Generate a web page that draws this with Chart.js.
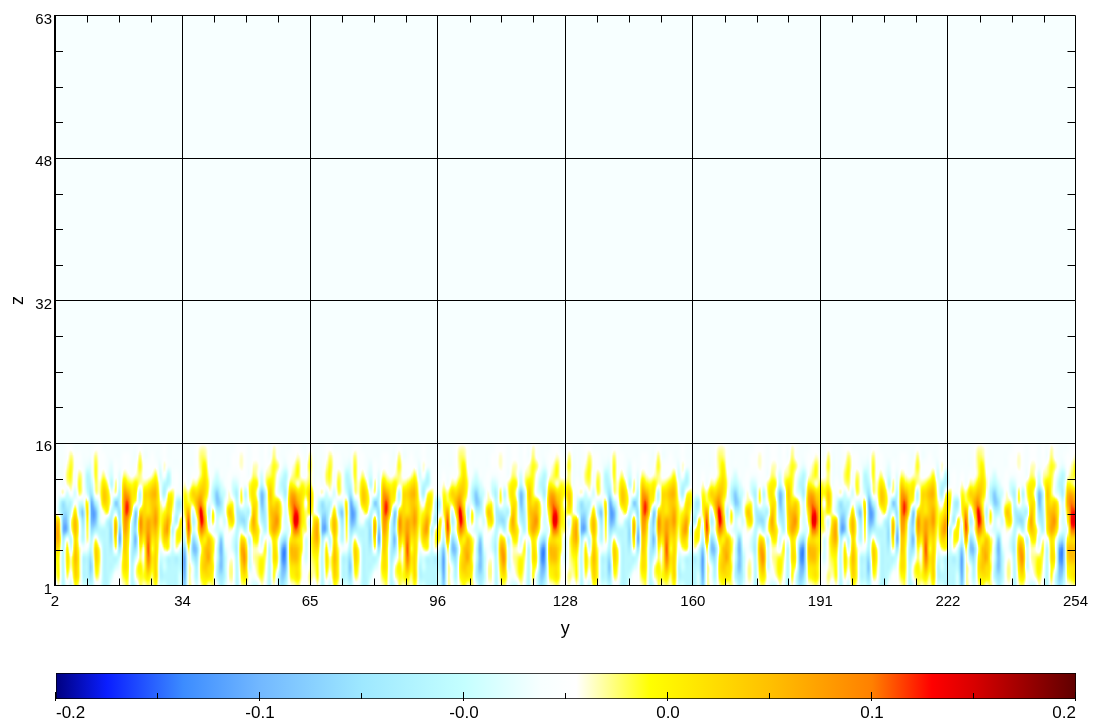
<!DOCTYPE html>
<html>
<head>
<meta charset="utf-8">
<title>y-z slice</title>
<script src="https://cdn.jsdelivr.net/npm/chart.js@4/dist/chart.umd.min.js"></script>
<style>
  html, body { margin: 0; padding: 0; background: #fff; }
  canvas { position: absolute; left: 0; display: block; }
  #heat { top: 0; }
  #bar { top: 640px; }
</style>
</head>
<body>
<canvas id="heat" width="1095" height="640"></canvas>
<canvas id="bar" width="1095" height="82"></canvas>
<script>
const xTickLabels = ['2', '34', '65', '96', '128', '160', '191', '222', '254'];
const zTickLabels = ['1', '16', '32', '48', '63'];
const barTickLabels = ['-0.2', '-0.1', '-0.0', '0.0', '0.1', '0.2'];

const stopValues = [-0.2, -0.18, -0.15, -0.12, -0.08, -0.04, -0.01, 0.004, 0.033, 0.08, 0.12, 0.1435, 0.16, 0.2];
const stopColors = ['#000080', '#0a1eff', '#3c8cff', '#72b8ff', '#9ee8ff', '#c4ffff', '#f7ffff', '#ffffff',
  '#ffff00', '#ffc000', '#ff8000', '#ff0000', '#d80000', '#600000'];

// value of the empty part of the slice, z above 16
const backgroundValue = -0.01;

// One line per y, z = 1 to 16, in hundredths.
const heatColumns = [
  [-1,1,2,3,5,7,7,5,1,1,1,-1,-1,-1,-1,-1],
  [1,3,3,3,5,8,8,6,-3,-3,-1,0,-1,-1,-1,-1],
  [-5,-5,-5,-5,-5,-6,-11,-10,-8,-8,1,-1,-1,-1,-1,-1],
  [-1,2,4,5,4,0,-11,-10,-8,-5,-3,1,2,1,0,0],
  [-3,-1,1,1,-3,-5,0,1,-3,-5,0,2,3,3,2,0],
  [3,6,7,8,7,6,8,8,5,0,-3,-1,-1,0,0,-1],
  [1,3,3,3,2,0,1,0,-5,-3,2,3,2,0,0,-1],
  [-3,-5,-5,-5,-1,-5,-6,-8,-10,-3,0,0,0,-1,-1,-1],
  [-3,-5,-5,-5,-1,2,3,4,6,4,-3,-5,-5,-2,-1,-1],
  [-5,-8,-10,-8,-5,-5,-8,-11,-12,-12,-8,-5,-3,-2,-1,-1],
  [-1,2,4,6,6,2,-6,-11,-12,-6,1,2,3,3,2,0],
  [-1,1,2,3,2,-3,-5,-3,-3,-1,1,1,0,0,0,0],
  [-5,-5,-5,-5,-5,-5,-5,-1,1,6,7,5,2,0,0,-1],
  [-5,-5,-5,-5,-5,-5,-5,-5,3,5,5,2,-1,-1,-1,-1],
  [-1,-3,-5,-5,-6,-8,-8,-6,-5,-1,-1,-5,-3,-2,-1,-1],
  [-1,0,-3,-5,2,6,9,7,-3,-10,1,2,0,0,-1,-1],
  [0,0,-1,-3,-8,-13,-11,-8,-8,-5,-5,-3,-2,-1,-1,-1],
  [1,3,5,5,6,6,8,9,10,10,9,6,2,0,0,-1],
  [2,3,4,4,4,5,7,9,13,13,9,4,1,0,0,-1],
  [-5,-5,-5,-6,-6,-5,-5,-3,3,5,5,3,0,-1,-1,-1],
  [-3,1,1,-3,-8,-11,-8,-10,-10,1,4,4,1,0,-1,-1],
  [2,3,4,2,3,6,9,10,5,-3,-5,1,2,3,2,0],
  [1,3,2,1,1,4,7,7,6,5,5,2,0,0,-1,-1],
  [2,5,9,12,13,12,10,9,5,5,6,3,0,0,-1,-1],
  [1,2,4,5,3,5,7,8,7,7,8,5,1,0,0,-1],
  [3,6,6,6,6,6,8,10,9,7,8,6,3,0,-1,-1],
  [-3,-5,-5,-3,-1,1,2,3,3,2,0,-1,-3,-2,-1,-1],
  [-3,-5,-3,-3,2,6,8,6,3,-1,-6,-5,0,1,0,0],
  [-5,-5,-5,-5,3,5,9,9,6,5,2,-5,-5,-1,-1,-1],
  [-5,-5,-5,-5,-3,-3,-5,0,2,4,3,-1,-1,-1,-1,-1],
  [-5,-5,-5,-6,1,3,2,-6,-5,-5,-1,0,0,-1,-1,-1],
  [-3,-3,-5,-5,-3,3,4,4,-3,-6,-1,-1,-1,-1,-1,-1],
  [-10,-12,-13,-13,-10,-5,-3,0,3,4,3,1,0,-1,-1,-1],
  [1,1,1,1,3,9,13,13,9,3,2,-1,-1,-1,-1,-1],
  [0,-1,-1,-6,-10,-8,-3,-5,-3,3,6,2,0,-1,-1,-1],
  [-3,-5,-6,-8,-10,-5,0,0,5,8,6,2,0,0,0,0],
  [1,3,4,3,1,5,11,14,15,11,8,5,2,2,2,1],
  [3,5,7,7,7,4,8,10,7,4,6,6,5,4,2,1],
  [1,5,6,9,8,7,1,-3,-5,-1,1,2,1,0,0,0],
  [2,3,4,3,4,3,-1,3,3,-3,-5,-3,-1,-1,-1,-1],
  [-1,-5,-5,-3,-3,-1,-3,-3,-5,-10,-10,-5,-3,-1,-1,-1],
  [-6,-8,-11,-11,-12,-10,-3,-1,-5,-8,-5,-3,-1,-1,-1,-1],
  [-3,-5,-5,-5,-3,-1,-1,-3,-1,-1,-3,-1,-1,-1,-1,-1],
  [0,1,1,0,-1,0,1,4,7,2,1,0,0,-1,-1,-1],
  [0,1,1,0,-3,-3,0,5,4,2,-3,-3,-1,0,0,-1],
  [-5,-5,-5,-5,-6,-5,-5,-5,-6,-5,-6,-3,-1,0,0,0],
  [1,3,5,7,8,5,-1,-8,-6,2,3,0,0,1,1,0],
  [2,5,8,10,8,4,-5,-8,-5,-3,-5,-1,0,0,0,0],
  [-1,0,-3,-3,-3,-5,1,0,-5,0,2,2,-1,-1,-1,-1],
  [-3,-1,0,1,1,3,7,9,7,5,5,4,2,1,0,0],
  [-3,1,2,2,1,4,5,3,3,3,0,3,1,1,0,0],
  [1,3,4,3,-1,-3,-1,-5,-8,-11,-11,-5,-3,-1,-1,-1],
  [-1,0,1,2,3,1,-5,-6,-6,-5,-5,1,1,0,0,0],
  [-5,-5,-5,-5,-5,-1,4,5,6,6,7,5,2,1,-1,-1],
  [1,3,3,5,5,5,9,9,8,5,3,3,3,3,2,1],
  [-3,-3,1,3,2,2,7,10,8,6,-1,-1,0,2,0,0],
  [-8,-10,-11,-13,-12,-6,0,1,2,1,-3,-5,-3,-1,-1,-1],
  [-5,-8,-11,-13,-13,-8,-3,-3,-3,-3,-6,-5,-5,-2,-1,-1],
  [0,2,3,5,6,3,-1,2,5,8,7,3,0,0,0,-1],
  [1,4,5,8,8,6,11,14,13,12,9,3,2,1,0,0],
  [2,5,5,7,7,5,11,14,13,9,6,1,3,3,1,0],
  [0,1,1,1,3,3,3,5,5,5,5,3,0,0,0,-1],
  [0,0,-1,-3,-3,-3,2,2,2,0,3,2,0,0,-1,-1],
  [1,2,1,1,1,1,-1,-3,4,7,7,3,2,3,2,0]
];

const AXIS_FONT = 'Liberation Sans, Arial, sans-serif';

function hexToRgb(hex) {
  return [1, 3, 5].map(i => parseInt(hex.slice(i, i + 2), 16));
}

function colorFor(v) {
  if (v <= stopValues[0]) return hexToRgb(stopColors[0]);
  for (let i = 1; i < stopValues.length; i++) {
    if (v <= stopValues[i]) {
      const t = (v - stopValues[i - 1]) / (stopValues[i] - stopValues[i - 1]);
      const a = hexToRgb(stopColors[i - 1]);
      const b = hexToRgb(stopColors[i]);
      return a.map((c, k) => Math.round(c + (b[k] - c) * t));
    }
  }
  return hexToRgb(stopColors[stopColors.length - 1]);
}

function cellValue(col, row) {
  const n = heatColumns.length;
  const c = heatColumns[((col % n) + n) % n];
  if (row >= c.length) return backgroundValue * 100;
  return c[Math.max(0, row)];
}

function cubic(a, b, c, d, t) {
  return b + 0.5 * t * (c - a + t * (2 * a - 5 * b + 4 * c - d + t * (3 * (b - c) + d - a)));
}

// Each point is drawn as a small image of its cell, shaded across to its
// neighbours, so the field comes out smooth like the original.
const CELL_W = 4.05, CELL_H = 9.19;
const sprites = {};
function spriteFor(col, row) {
  const key = col + '_' + row;
  if (sprites[key]) return sprites[key];
  const c = document.createElement('canvas');
  c.width = 8;
  c.height = 14;
  const g = c.getContext('2d');
  const img = g.createImageData(c.width, c.height);
  for (let j = 0; j < c.height; j++) {
    for (let i = 0; i < c.width; i++) {
      let u = (i + 0.5 - c.width / 2) / CELL_W;
      let w = (c.height / 2 - j - 0.5) / CELL_H;
      const c0 = col + Math.floor(u), r0 = row + Math.floor(w);
      u -= Math.floor(u);
      w -= Math.floor(w);
      const vs = [-1, 0, 1, 2].map(dc => cubic(
        cellValue(c0 + dc, r0 - 1), cellValue(c0 + dc, r0),
        cellValue(c0 + dc, r0 + 1), cellValue(c0 + dc, r0 + 2), w));
      const rgb = colorFor(cubic(vs[0], vs[1], vs[2], vs[3], u) / 100);
      const p = (j * c.width + i) * 4;
      img.data[p] = rgb[0];
      img.data[p + 1] = rgb[1];
      img.data[p + 2] = rgb[2];
      img.data[p + 3] = 255;
    }
  }
  g.putImageData(img, 0, 0);
  sprites[key] = c;
  return c;
}

const cells = [];
for (let y = 2; y <= 254; y++) {
  heatColumns[(y - 2) % heatColumns.length].forEach((v, i) => cells.push({ x: y, y: i + 1 }));
}

function minorValues(scale, parts) {
  const out = [];
  const t = scale.ticks;
  for (let i = 0; i < t.length - 1; i++) {
    const step = (t[i + 1].value - t[i].value) / parts;
    for (let k = 1; k < parts; k++) out.push(t[i].value + step * k);
  }
  return out;
}

const heatPlugin = {
  id: 'heatFrame',
  beforeDatasetsDraw(chart) {
    const a = chart.chartArea;
    const rgb = colorFor(backgroundValue);
    chart.ctx.fillStyle = 'rgb(' + rgb.join(',') + ')';
    chart.ctx.fillRect(a.left, a.top, a.right - a.left, a.bottom - a.top);
  },
  afterDraw(chart) {
    const a = chart.chartArea, ctx = chart.ctx;
    ctx.save();
    ctx.strokeStyle = '#000';
    ctx.lineWidth = 1;
    ctx.beginPath();
    minorValues(chart.scales.x, 4).forEach(v => {
      const px = Math.round(chart.scales.x.getPixelForValue(v)) + 0.5;
      ctx.moveTo(px, a.bottom); ctx.lineTo(px, a.bottom - 7);
      ctx.moveTo(px, a.top); ctx.lineTo(px, a.top + 7);
    });
    minorValues(chart.scales.y, 4).forEach(v => {
      const py = Math.round(chart.scales.y.getPixelForValue(v)) + 0.5;
      ctx.moveTo(a.left, py); ctx.lineTo(a.left + 8, py);
      ctx.moveTo(a.right, py); ctx.lineTo(a.right - 8, py);
    });
    ctx.stroke();
    ctx.restore();
  }
};

new Chart(document.getElementById('heat'), {
  type: 'scatter',
  data: {
    datasets: [{
      data: cells,
      pointStyle: c => (c.raw ? spriteFor((c.raw.x - 2) % heatColumns.length, c.raw.y - 1) : 'rect'),
      pointRadius: 2,
      pointHoverRadius: 2
    }]
  },
  options: {
    responsive: false,
    animation: false,
    events: [],
    layout: { padding: { top: 15.5, right: 18.75, left: 0, bottom: 0 } },
    plugins: { legend: { display: false }, tooltip: { enabled: false } },
    scales: {
      x: {
        type: 'linear',
        min: 2,
        max: 254,
        afterFit: s => { s.height = 54.5; },
        grid: { color: '#000', lineWidth: 1, drawTicks: false, z: 1 },
        border: { color: '#000', width: 1, z: 1 },
        ticks: {
          stepSize: 31.5,
          autoSkip: false,
          maxRotation: 0,
          padding: 7,
          color: '#000',
          font: { family: AXIS_FONT, size: 15 },
          callback: (v, i) => xTickLabels[i]
        },
        title: { display: true, text: 'y', color: '#000', font: { family: AXIS_FONT, size: 18 }, padding: { top: 0, bottom: 0 } }
      },
      y: {
        type: 'linear',
        min: 1,
        max: 63,
        afterFit: s => { s.width = 55; },
        grid: { color: '#000', lineWidth: 1, drawTicks: false, z: 1 },
        border: { color: '#000', width: 2, z: 1 },
        ticks: {
          stepSize: 15.5,
          autoSkip: false,
          padding: 3,
          labelOffset: 4,
          color: '#000',
          font: { family: AXIS_FONT, size: 15 },
          callback: (v, i) => zTickLabels[i]
        },
        title: { display: true, text: 'z', color: '#000', font: { family: AXIS_FONT, size: 18 }, padding: { top: 7, bottom: 0 } }
      }
    }
  },
  plugins: [heatPlugin]
});

const barTickPlugin = {
  id: 'barTicks',
  afterDraw(chart) {
    const a = chart.chartArea, ctx = chart.ctx, sx = chart.scales.x;
    ctx.save();
    ctx.strokeStyle = '#000';
    ctx.lineWidth = 1;
    ctx.beginPath();
    sx.ticks.forEach(t => {
      const px = Math.round(sx.getPixelForValue(t.value)) - 0.5;
      ctx.moveTo(px, a.bottom + 2); ctx.lineTo(px, a.bottom - 7);
    });
    minorValues(sx, 2).forEach(v => {
      const px = Math.round(sx.getPixelForValue(v)) - 0.5;
      ctx.moveTo(px, a.bottom); ctx.lineTo(px, a.bottom - 6);
    });
    ctx.stroke();
    ctx.restore();
  }
};

function barGradient(c) {
  const a = c.chart.chartArea;
  if (!a) return '#000';
  const g = c.chart.ctx.createLinearGradient(a.left, 0, a.right, 0);
  stopValues.forEach((v, i) => g.addColorStop((v + 0.2) / 0.4, stopColors[i]));
  return g;
}

new Chart(document.getElementById('bar'), {
  type: 'bar',
  data: {
    labels: ['value'],
    datasets: [{
      data: [[-0.2, 0.2]],
      backgroundColor: barGradient,
      borderColor: '#000',
      borderWidth: 1,
      borderSkipped: false,
      barPercentage: 1,
      categoryPercentage: 1
    }]
  },
  options: {
    indexAxis: 'y',
    responsive: false,
    animation: false,
    events: [],
    layout: { padding: { top: 33, left: 56, right: 19, bottom: 0 } },
    plugins: { legend: { display: false }, tooltip: { enabled: false } },
    scales: {
      y: { display: false },
      x: {
        type: 'linear',
        min: -0.2,
        max: 0.2,
        afterFit: s => { s.height = 23; },
        grid: { display: false, drawTicks: false },
        border: { display: false },
        ticks: {
          stepSize: 0.08,
          autoSkip: false,
          maxRotation: 0,
          align: 'inner',
          padding: 4,
          color: '#000',
          font: { family: AXIS_FONT, size: 17 },
          callback: (v, i) => barTickLabels[i]
        }
      }
    }
  },
  plugins: [barTickPlugin]
});
</script>
</body>
</html>
